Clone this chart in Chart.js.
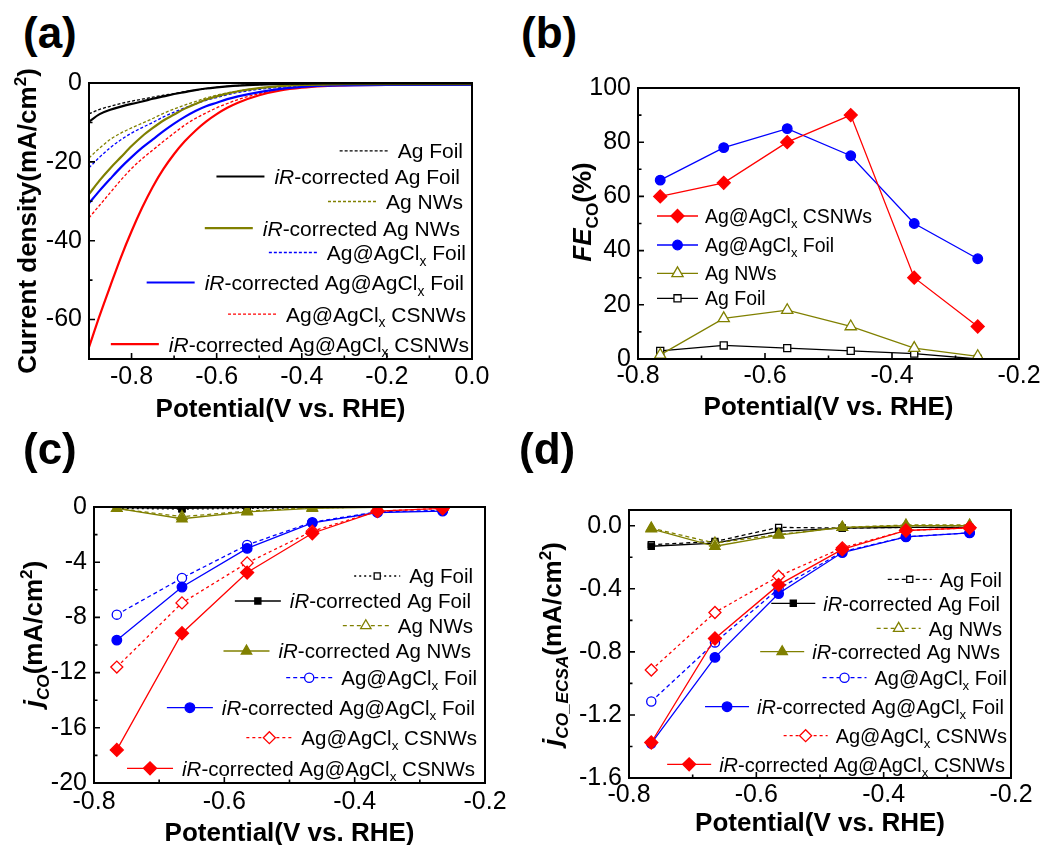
<!DOCTYPE html>
<html>
<head>
<meta charset="utf-8">
<script src="https://cdn.jsdelivr.net/npm/chart.js@4.4.1/dist/chart.umd.min.js"></script>
<style>
  body { margin: 0; background: #fff; }
  #fig { position: relative; width: 1056px; height: 845px; overflow: hidden; font-family: "Liberation Sans", Arial, sans-serif; }
  #fig canvas { position: absolute; }
  .tag { position: absolute; font-weight: bold; font-size: 44px; line-height: 44px; color: #000; z-index: 2; }
</style>
</head>
<body>
<div id="fig">
  <canvas id="chartA" width="528" height="380" style="left:0px;top:60px"></canvas>
  <canvas id="chartB" width="528" height="380" style="left:528px;top:60px"></canvas>
  <canvas id="chartC" width="528" height="365" style="left:0px;top:480px"></canvas>
  <canvas id="chartD" width="528" height="365" style="left:528px;top:480px"></canvas>
  <div class="tag" style="left:23px;top:11px">(a)</div>
  <div class="tag" style="left:521px;top:11px">(b)</div>
  <div class="tag" style="left:23px;top:427px">(c)</div>
  <div class="tag" style="left:519px;top:427px">(d)</div>
</div>
<script>
const FONT = '"Liberation Sans", Arial, sans-serif';

// ---- (a) polarization curves, current density in mA/cm2
const potentialLSV = [-0.9, -0.875, -0.85, -0.825, -0.8, -0.775, -0.75, -0.725, -0.7, -0.675, -0.65, -0.625, -0.6, -0.575, -0.55, -0.5, -0.45, -0.4, -0.35, -0.3, -0.2, -0.1, 0];
const agFoilLSV     = [-7.8, -6.7, -5.9, -5.2, -4.6, -4.1, -3.6, -3.1, -2.7, -2.2, -1.8, -1.4, -1.1, -0.85, -0.65, -0.4, -0.25, -0.15, -0.1, -0.1, -0.1, -0.1, -0.1];
const irAgFoilLSV   = [-9.8, -7.9, -6.8, -6.0, -5.3, -4.7, -4.0, -3.4, -2.8, -2.3, -1.8, -1.4, -1.1, -0.85, -0.65, -0.4, -0.25, -0.15, -0.1, -0.1, -0.1, -0.1, -0.1];
const agNWsLSV      = [-19, -16.5, -14.3, -12.7, -11.4, -10.2, -9.0, -7.7, -6.6, -5.6, -4.7, -3.8, -3.1, -2.5, -2.0, -1.3, -0.8, -0.5, -0.4, -0.3, -0.3, -0.3, -0.3];
const irAgNWsLSV    = [-28.2, -24.7, -21.6, -18.8, -16, -13.5, -11.4, -9.5, -8.0, -6.5, -5.3, -4.2, -3.4, -2.7, -2.1, -1.3, -0.8, -0.5, -0.4, -0.3, -0.3, -0.3, -0.3];
const clFoilLSV     = [-21.5, -18.8, -16.4, -14.4, -12.7, -11.3, -10.0, -8.6, -7.4, -6.3, -5.3, -4.4, -3.7, -3.0, -2.4, -1.6, -1.1, -0.8, -0.6, -0.5, -0.5, -0.5, -0.5];
const irClFoilLSV   = [-30.5, -27.3, -24.3, -21.4, -18.8, -16.4, -14.3, -12.2, -10.3, -8.6, -7.1, -5.9, -5.0, -4.1, -3.4, -2.3, -1.5, -1.0, -0.7, -0.6, -0.5, -0.5, -0.5];
const csnwsLSV      = [-34.2, -31, -27.8, -24.6, -21.7, -19.2, -17, -14.8, -12.7, -10.7, -9.0, -7.6, -6.3, -5.2, -4.2, -2.7, -1.6, -1.0, -0.7, -0.6, -0.5, -0.5, -0.5];
const irCsnwsLSV    = [-67, -59, -51.5, -44.2, -37.6, -31.6, -26.3, -21.8, -18.0, -14.8, -12.1, -9.8, -7.9, -6.3, -5.0, -3.1, -1.9, -1.2, -0.8, -0.6, -0.5, -0.5, -0.5];

// ---- (b) Faradaic efficiency of CO (%)
const potentialCO = [-0.765, -0.665, -0.565, -0.465, -0.365, -0.265];
const feCsnws  = [60, 65, 80, 90, 30, 12];
const feClFoil = [66, 78, 85, 75, 50, 37];
const feAgNWs  = [1.5, 15, 18, 12, 4, 1];
const feAgFoil = [3, 5, 4, 3, 2, 0];

// ---- (c) partial current density of CO (mA/cm2)
const jcoAgFoil   = [-0.1, -0.15, -0.1, -0.05, -0.02, 0];
const jcoIrAgFoil = [-0.05, -0.1, -0.05, -0.02, 0, 0];
const jcoAgNWs    = [-0.1, -0.7, -0.3, -0.05, 0, 0];
const jcoIrAgNWs  = [-0.1, -0.85, -0.35, -0.1, -0.02, 0];
const jcoClFoil   = [-7.8, -5.15, -2.75, -1.1, -0.35, -0.25];
const jcoIrClFoil = [-9.65, -5.8, -3.0, -1.15, -0.4, -0.3];
const jcoCsnws    = [-11.6, -6.95, -4.05, -1.75, -0.3, -0.1];
const jcoIrCsnws  = [-17.6, -9.15, -4.75, -1.9, -0.3, -0.1];

// ---- (d) ECSA-normalised CO partial current density (mA/cm2)
const ecsaAgFoil   = [-0.12, -0.10, -0.01, -0.015, -0.01, -0.01];
const ecsaIrAgFoil = [-0.13, -0.11, -0.035, -0.015, -0.01, -0.01];
const ecsaAgNWs    = [-0.015, -0.11, -0.055, -0.01, 0.005, 0.005];
const ecsaIrAgNWs  = [-0.02, -0.13, -0.06, -0.01, 0, 0];
const ecsaClFoil   = [-1.115, -0.74, -0.40, -0.165, -0.07, -0.045];
const ecsaIrClFoil = [-1.38, -0.835, -0.43, -0.17, -0.07, -0.045];
const ecsaCsnws    = [-0.915, -0.55, -0.32, -0.14, -0.03, -0.013];
const ecsaIrCsnws  = [-1.375, -0.715, -0.375, -0.15, -0.03, -0.013];

// ---- series names (<i>, <sub>, <sup> are drawn as rich text)
const labelsEight = ['Ag Foil', '<i>iR</i>-corrected Ag Foil', 'Ag NWs', '<i>iR</i>-corrected Ag NWs',
  'Ag@AgCl<sub>x</sub> Foil', '<i>iR</i>-corrected Ag@AgCl<sub>x</sub> Foil',
  'Ag@AgCl<sub>x</sub> CSNWs', '<i>iR</i>-corrected Ag@AgCl<sub>x</sub> CSNWs'];
const labelsFE = ['Ag@AgCl<sub>x</sub> CSNWs', 'Ag@AgCl<sub>x</sub> Foil', 'Ag NWs', 'Ag Foil'];

// ---- tick values
const xTicksLSV = [-0.8, -0.6, -0.4, -0.2, 0];
const xMinorLSV = [-0.9, -0.7, -0.5, -0.3, -0.1];
const yTicksLSV = [-60, -40, -20, 0];
const yMinorLSV = [-50, -30, -10];
const xTicksCO = [-0.8, -0.6, -0.4, -0.2];
const xMinorCO = [-0.7, -0.5, -0.3];
const yTicksFE = [0, 20, 40, 60, 80, 100];
const yMinorFE = [10, 30, 50, 70, 90];
const yTicksJco = [-20, -16, -12, -8, -4, 0];
const yMinorJco = [-18, -14, -10, -6, -2];
const yTicksEcsa = [-1.6, -1.2, -0.8, -0.4, 0];
const yMinorEcsa = [-1.4, -1.0, -0.6, -0.2];

const RED = '#ff0000', BLUE = '#0000ff', OLIVE = '#808000', BLACK = '#000000';
const toXY = (xs, ys) => xs.map((x, i) => ({ x, y: ys[i] }));

// ---- rich text helpers
function parseRich(str) {
  const segs = [];
  const re = /<(\/?)(i|sub|sup)>/g;
  let st = { i: false, sub: false, sup: false }, last = 0, m;
  while ((m = re.exec(str))) {
    if (m.index > last) segs.push({ t: str.slice(last, m.index), ...st });
    st = { ...st, [m[2]]: !m[1] };
    last = re.lastIndex;
  }
  if (last < str.length) segs.push({ t: str.slice(last), ...st });
  return segs;
}
function segFont(seg, size, bold) {
  const s = (seg.sub || seg.sup) ? size * 0.66 : size;
  return (seg.i ? 'italic ' : '') + (bold ? 'bold ' : '') + s.toFixed(1) + 'px ' + FONT;
}
function richWidth(ctx, str, size, bold) {
  return parseRich(str).reduce((w, seg) => { ctx.font = segFont(seg, size, bold); return w + ctx.measureText(seg.t).width; }, 0);
}
function drawRich(ctx, str, x, y, size, bold) {
  ctx.textAlign = 'left';
  ctx.textBaseline = 'alphabetic';
  parseRich(str).forEach(seg => {
    ctx.font = segFont(seg, size, bold);
    const dy = seg.sub ? size * 0.26 : (seg.sup ? -size * 0.4 : 0);
    ctx.fillText(seg.t, x, y + dy);
    x += ctx.measureText(seg.t).width;
  });
}

function drawMarker(ctx, style, r, x, y) {
  ctx.beginPath();
  if (style === 'circle') {
    ctx.arc(x, y, r, 0, Math.PI * 2);
  } else if (style === 'rect') {
    const s = r * Math.SQRT1_2;
    ctx.rect(x - s, y - s, 2 * s, 2 * s);
  } else if (style === 'rectRot') {
    ctx.moveTo(x - r, y); ctx.lineTo(x, y - r); ctx.lineTo(x + r, y); ctx.lineTo(x, y + r); ctx.closePath();
  } else if (style === 'triangle') {
    for (let k = 0; k < 3; k++) {
      const a = k * 2 * Math.PI / 3;
      const px = x + Math.sin(a) * r, py = y - Math.cos(a) * r;
      if (k === 0) ctx.moveTo(px, py); else ctx.lineTo(px, py);
    }
    ctx.closePath();
  }
  ctx.fill();
  ctx.stroke();
}

// frame, inward ticks, titles and legend for one panel
function makeDecor(p) {
  return {
    id: 'decor',
    afterDatasetsDraw(chart) {
      const { ctx, chartArea: a, scales: { x, y } } = chart;
      ctx.save();
      ctx.strokeStyle = BLACK;
      ctx.lineWidth = 2;
      ctx.strokeRect(a.left, a.top, a.right - a.left, a.bottom - a.top);
      ctx.lineWidth = 1.6;
      ctx.beginPath();
      const xt = (v, len) => { const px = x.getPixelForValue(v); ctx.moveTo(px, a.bottom); ctx.lineTo(px, a.bottom - len); };
      const yt = (v, len) => { const py = y.getPixelForValue(v); ctx.moveTo(a.left, py); ctx.lineTo(a.left + len, py); };
      p.xTicks.forEach(v => xt(v, 6));
      p.xMinor.forEach(v => xt(v, 3.5));
      p.yTicks.forEach(v => yt(v, 6));
      p.yMinor.forEach(v => yt(v, 3.5));
      ctx.stroke();
      ctx.restore();
    },
    afterDraw(chart) {
      const ctx = chart.ctx;
      const ox = p.canvas.left, oy = p.canvas.top;
      ctx.save();
      ctx.fillStyle = BLACK;
      // x title
      const tw = richWidth(ctx, p.xTitle.text, 26, true);
      drawRich(ctx, p.xTitle.text, p.xTitle.x - ox - tw / 2, p.xTitle.y - oy + 9.4, 26, true);
      // y title (rotated)
      const yw = richWidth(ctx, p.yTitle.text, 26, true);
      ctx.save();
      ctx.translate(p.yTitle.x - ox, p.yTitle.y - oy);
      ctx.rotate(-Math.PI / 2);
      drawRich(ctx, p.yTitle.text, -yw / 2, 9.4, 26, true);
      ctx.restore();
      // legend
      const lg = p.legend;
      chart.data.datasets.forEach((ds, i) => {
        const cy = lg.rows[i] - oy;
        let textX;
        if (lg.align === 'right') {
          textX = lg.edges[i] - ox - richWidth(ctx, ds.label, lg.size, false);
        } else {
          textX = lg.edges[i] - ox;
        }
        const x1 = textX - lg.gap, x0 = x1 - lg.len;
        ctx.save();
        ctx.strokeStyle = ds.borderColor;
        ctx.lineWidth = ds.borderWidth;
        ctx.setLineDash(ds.borderDash || []);
        ctx.beginPath(); ctx.moveTo(x0, cy); ctx.lineTo(x1, cy); ctx.stroke();
        ctx.setLineDash([]);
        if (ds.pointRadius > 0) {
          ctx.fillStyle = ds.pointBackgroundColor;
          ctx.lineWidth = ds.pointBorderWidth;
          drawMarker(ctx, ds.pointStyle, ds.pointRadius, (x0 + x1) / 2, cy);
        }
        ctx.restore();
        ctx.fillStyle = BLACK;
        drawRich(ctx, ds.label, textX, cy + lg.size * 0.36, lg.size, false);
      });
      ctx.restore();
    }
  };
}

function buildChart(p) {
  const canvas = document.getElementById(p.id);
  const W = canvas.width, H = canvas.height;
  const padTop = p.plot.top - p.canvas.top;
  const padRight = p.canvas.left + W - p.plot.right;
  const yWidth = p.plot.left - p.canvas.left;
  const xHeight = p.canvas.top + H - p.plot.bottom;
  const tickFont = { family: FONT, size: 25 };
  new Chart(canvas, {
    type: 'line',
    data: { datasets: p.datasets },
    options: {
      responsive: false,
      animation: false,
      events: [],
      layout: { padding: { left: 0, top: padTop, right: padRight, bottom: 0 } },
      plugins: { legend: { display: false }, tooltip: { enabled: false } },
      scales: {
        x: {
          type: 'linear', min: p.xMin, max: p.xMax,
          grid: { display: false, drawTicks: false }, border: { display: false },
          afterBuildTicks: s => { s.ticks = p.xTicks.map(v => ({ value: v })); },
          afterFit: s => { s.height = xHeight; },
          ticks: { font: tickFont, color: BLACK, padding: p.xPad, maxRotation: 0, autoSkip: false, callback: v => p.xFmt(v) }
        },
        y: {
          type: 'linear', min: p.yMin, max: p.yMax,
          grid: { display: false, drawTicks: false }, border: { display: false },
          afterBuildTicks: s => { s.ticks = p.yTicks.map(v => ({ value: v })); },
          afterFit: s => { s.width = yWidth; },
          ticks: { font: tickFont, color: BLACK, padding: 7, autoSkip: false, callback: v => p.yFmt(v) }
        }
      }
    },
    plugins: [makeDecor(p)]
  });
}

// ---- dataset builders
const eightColors = [BLACK, BLACK, OLIVE, OLIVE, BLUE, BLUE, RED, RED];
function lsvDatasets() {
  const series = [agFoilLSV, irAgFoilLSV, agNWsLSV, irAgNWsLSV, clFoilLSV, irClFoilLSV, csnwsLSV, irCsnwsLSV];
  return series.map((ys, i) => ({
    label: labelsEight[i],
    data: toXY(potentialLSV, ys),
    borderColor: eightColors[i],
    borderWidth: i % 2 ? 2.2 : 1.3,
    borderDash: i % 2 ? [] : [3, 2],
    pointRadius: 0,
    cubicInterpolationMode: 'monotone',
    fill: false
  }));
}
function markerDatasets(series, dotted) {
  const styles = ['rect', 'rect', 'triangle', 'triangle', 'circle', 'circle', 'rectRot', 'rectRot'];
  const sizes = [4.3, 4.3, 6, 6, 4.6, 4.8, 6, 6.5];
  const dashes = [dotted, [], [4, 3], [], [4, 3], [], [3, 3], []];
  return series.map((ys, i) => ({
    label: labelsEight[i],
    data: toXY(potentialCO, ys),
    borderColor: eightColors[i],
    borderWidth: 1.3,
    borderDash: dashes[i],
    pointStyle: styles[i],
    pointRadius: sizes[i],
    pointBorderWidth: 1.3,
    pointBorderColor: eightColors[i],
    pointBackgroundColor: i % 2 ? eightColors[i] : '#ffffff',
    order: -i,
    tension: 0,
    fill: false
  }));
}
function feDatasets() {
  const series = [feCsnws, feClFoil, feAgNWs, feAgFoil];
  const colors = [RED, BLUE, OLIVE, BLACK];
  const styles = ['rectRot', 'circle', 'triangle', 'rect'];
  const sizes = [6.5, 4.8, 6.5, 5];
  const filled = [true, true, false, false];
  return series.map((ys, i) => ({
    label: labelsFE[i],
    data: toXY(potentialCO, ys),
    borderColor: colors[i],
    borderWidth: 1.3,
    borderDash: [],
    pointStyle: styles[i],
    pointRadius: sizes[i],
    pointBorderWidth: 1.3,
    pointBorderColor: colors[i],
    pointBackgroundColor: filled[i] ? colors[i] : '#ffffff',
    tension: 0,
    fill: false
  }));
}

const fmt1 = v => v.toFixed(1);
const fmt0 = v => String(Math.round(v));

const panels = [
  {
    id: 'chartA', canvas: { left: 0, top: 60 }, plot: { left: 89, top: 83, right: 472, bottom: 359 },
    xMin: -0.9, xMax: 0, yMin: -70, yMax: 0,
    xTicks: xTicksLSV, xMinor: xMinorLSV, yTicks: yTicksLSV, yMinor: yMinorLSV,
    xFmt: fmt1, yFmt: fmt0, xPad: 3.5,
    xTitle: { text: 'Potential(V vs. RHE)', x: 280.5, y: 407.5 },
    yTitle: { text: 'Current density(mA/cm<sup>2</sup>)', x: 27, y: 221 },
    legend: { align: 'right', size: 21, len: 48, gap: 10,
      edges: [463, 460, 463, 460, 466, 464, 466, 469],
      rows: [150.8, 176.5, 201.5, 228.2, 252.5, 282.5, 314.2, 344.2] },
    datasets: lsvDatasets()
  },
  {
    id: 'chartB', canvas: { left: 528, top: 60 }, plot: { left: 638, top: 88, right: 1019, bottom: 359 },
    xMin: -0.8, xMax: -0.2, yMin: 0, yMax: 100,
    xTicks: xTicksCO, xMinor: xMinorCO, yTicks: yTicksFE, yMinor: yMinorFE,
    xFmt: fmt1, yFmt: fmt0, xPad: 2.5,
    xTitle: { text: 'Potential(V vs. RHE)', x: 828.5, y: 406 },
    yTitle: { text: '<i>FE</i><sub>CO</sub>(%)', x: 582, y: 212 },
    legend: { align: 'left', size: 19.5, len: 41, gap: 7,
      edges: [705, 705, 705, 705],
      rows: [216, 245, 273.3, 298.3] },
    datasets: feDatasets()
  },
  {
    id: 'chartC', canvas: { left: 0, top: 480 }, plot: { left: 94, top: 507, right: 485, bottom: 783 },
    xMin: -0.8, xMax: -0.2, yMin: -20, yMax: 0,
    xTicks: xTicksCO, xMinor: xMinorCO, yTicks: yTicksJco, yMinor: yMinorJco,
    xFmt: fmt1, yFmt: fmt0, xPad: 3.7,
    xTitle: { text: 'Potential(V vs. RHE)', x: 289.5, y: 832 },
    yTitle: { text: '<i>j</i><sub><i>CO</i></sub>(mA/cm<sup>2</sup>)', x: 33, y: 634 },
    legend: { align: 'right', size: 20.5, len: 46, gap: 9,
      edges: [473, 471, 473, 471, 477, 475, 477, 475],
      rows: [576, 601, 625.7, 651, 677.7, 707.7, 737.7, 768.3] },
    datasets: markerDatasets([jcoAgFoil, jcoIrAgFoil, jcoAgNWs, jcoIrAgNWs, jcoClFoil, jcoIrClFoil, jcoCsnws, jcoIrCsnws], [2, 3])
  },
  {
    id: 'chartD', canvas: { left: 528, top: 480 }, plot: { left: 629, top: 510, right: 1011, bottom: 778 },
    xMin: -0.8, xMax: -0.2, yMin: -1.6, yMax: 0.1,
    xTicks: xTicksCO, xMinor: xMinorCO, yTicks: yTicksEcsa, yMinor: yMinorEcsa,
    xFmt: fmt1, yFmt: fmt1, xPad: 2,
    xTitle: { text: 'Potential(V vs. RHE)', x: 820, y: 821.7 },
    yTitle: { text: '<i>j</i><sub><i>CO_ECSA</i></sub>(mA/cm<sup>2</sup>)', x: 552, y: 644 },
    legend: { align: 'right', size: 20, len: 44, gap: 8,
      edges: [1002, 1000, 1002, 1000, 1007, 1004, 1007, 1005],
      rows: [579.3, 603.3, 628.3, 651.7, 677.7, 706.7, 735.7, 764.3] },
    datasets: markerDatasets([ecsaAgFoil, ecsaIrAgFoil, ecsaAgNWs, ecsaIrAgNWs, ecsaClFoil, ecsaIrClFoil, ecsaCsnws, ecsaIrCsnws], [4, 3])
  }
];

Chart.defaults.font.family = FONT;
Chart.defaults.color = BLACK;
panels.forEach(buildChart);
</script>
</body>
</html>
